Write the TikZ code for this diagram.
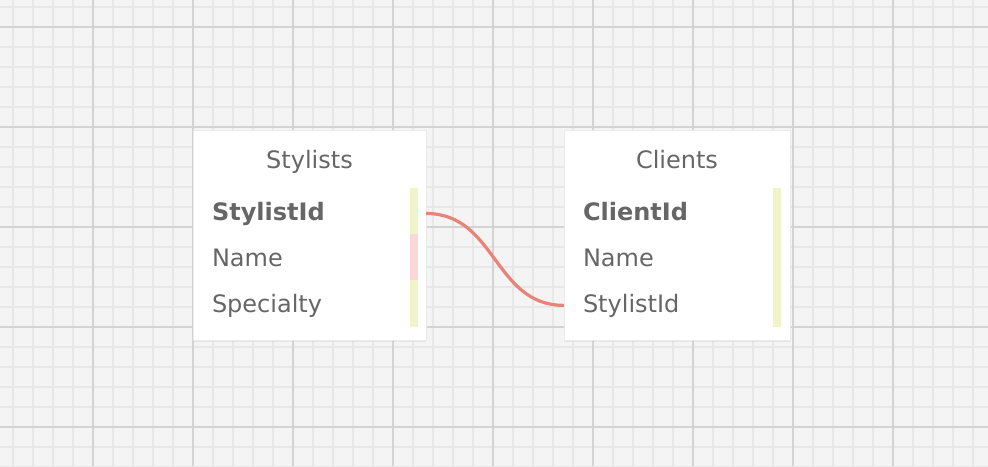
\documentclass[tikz,border=0pt]{standalone}
\usepackage{fontspec}
\setmainfont{DejaVu Sans}
\usepackage{tikz}
\usetikzlibrary{positioning, shadows}
\definecolor{Paper}    {HTML}{F4F4F4}
\definecolor{GridMinor}{HTML}{E7E7E7}
\definecolor{GridMajor}{HTML}{D3D3D3}
\definecolor{Label}    {HTML}{666666}
\definecolor{Link}     {HTML}{E8837A}
\definecolor{KeyBar}   {HTML}{F1F3C9}
\definecolor{RefBar}   {HTML}{F8D9D6}

\begin{document}
\begin{tikzpicture}[x=1pt, y=-1pt, font=\fontsize{24}{29}\selectfont,
    table/.style={fill=white, draw=black!8, line width=0.8pt,
                  drop shadow={opacity=0.12, shadow xshift=0pt, shadow yshift=-1.5pt},
                  minimum height=210pt},
    title/.style={text=Label, inner sep=0pt, anchor=base},
    row/.style={text=Label, inner xsep=19pt, inner ysep=0pt, align=left, anchor=base},
    link/.style={draw=Link, line width=3.2pt}]
  % Background and grid
  \fill[Paper] (0,0) rectangle (988,466);
  \useasboundingbox (0,0) rectangle (988,466);
  \foreach \x in {13,33,...,993}
    \draw[GridMinor, line width=2pt] (\x,0) -- (\x,466);
  \foreach \y in {7,27,...,467}
    \draw[GridMinor, line width=2pt] (0,\y) -- (988,\y);
  \foreach \x in {93,193,...,993}
    \draw[GridMajor, line width=2pt] (\x,0) -- (\x,466);
  \foreach \y in {27,127,...,467}
    \draw[GridMajor, line width=2pt] (0,\y) -- (988,\y);
  % Stylists
  \node[table, minimum width=233pt] (stylists) at (309.5,235) {};
  \fill[KeyBar] (410,188) rectangle (418,234);
  \fill[RefBar] (410,234) rectangle (418,280);
  \fill[KeyBar] (410,280) rectangle (418,327);
  \node[title] (stylistsTitle) at (309.5,168) {Stylists};
  \node[row, text width=195pt] (stylistsId) at (309.5,220) {\textbf{StylistId}};
  \node[row, text width=195pt] (stylistsName) at (309.5,266) {Name};
  \node[row, text width=195pt] (stylistsSpec) at (309.5,312) {Specialty};
  % Clients
  \node[table, minimum width=226pt] (clients) at (677,235) {};
  \fill[KeyBar] (773,188) rectangle (781,327);
  \node[title] (clientsTitle) at (677,168) {Clients};
  \node[row, text width=188pt] (clientsId) at (677,220) {\textbf{ClientId}};
  \node[row, text width=188pt] (clientsName) at (677,266) {Name};
  \node[row, text width=188pt] (clientsStylist) at (677,312) {StylistId};
  % Relation
  \draw[link] (stylistsId.east) .. controls +(70,0) and +(-70,0) .. (clientsStylist.west);
\end{tikzpicture}
\end{document}
